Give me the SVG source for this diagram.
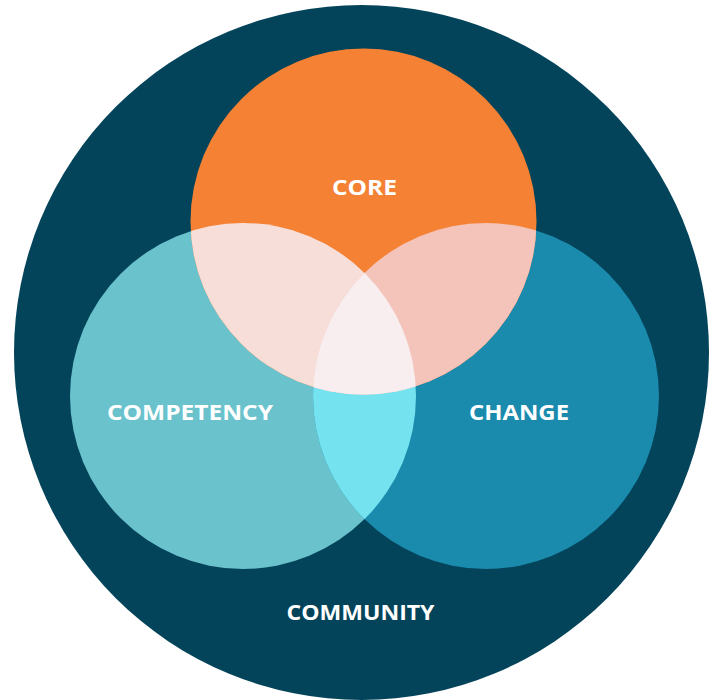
<svg xmlns="http://www.w3.org/2000/svg" width="718" height="700" viewBox="0 0 718 700">
  <style>
    .lbl { font-family: "Open Sans", "Liberation Sans", Arial, sans-serif; font-weight: 700; font-size: 22px; fill: #ffffff; text-anchor: middle; }
  </style>
  <defs>
    <clipPath id="clipCore"><circle cx="363.5" cy="221.5" r="173"/></clipPath>
    <clipPath id="clipComp"><circle cx="243" cy="396" r="173"/></clipPath>
    <clipPath id="clipChange"><circle cx="486" cy="396" r="173"/></clipPath>
  </defs>
  <rect width="718" height="700" fill="#ffffff"/>
  <g id="community">
    <circle cx="361.5" cy="352.5" r="347.5" fill="#03445a"/>
    <text class="lbl" x="360.5" y="620" textLength="148" lengthAdjust="spacingAndGlyphs">COMMUNITY</text>
  </g>
  <g id="competency">
    <circle cx="243" cy="396" r="173" fill="#6ac2cc"/>
  </g>
  <g id="change">
    <circle cx="486" cy="396" r="173" fill="#1a8aad"/>
  </g>
  <g id="core">
    <circle cx="363.5" cy="221.5" r="173" fill="#f48134"/>
  </g>
  <g id="overlaps">
    <g clip-path="url(#clipComp)">
      <circle cx="486" cy="396" r="173" fill="#74e2ef"/>
      <circle cx="363.5" cy="221.5" r="173" fill="#f7ded8"/>
    </g>
    <g clip-path="url(#clipChange)">
      <circle cx="363.5" cy="221.5" r="173" fill="#f4c4bb"/>
      <g clip-path="url(#clipComp)">
        <circle cx="363.5" cy="221.5" r="173" fill="#f8eef0"/>
      </g>
    </g>
  </g>
  <g id="labels">
    <text class="lbl" x="364.5" y="195" textLength="65" lengthAdjust="spacingAndGlyphs">CORE</text>
    <text class="lbl" x="190" y="420" textLength="166" lengthAdjust="spacingAndGlyphs">COMPETENCY</text>
    <text class="lbl" x="519" y="420" textLength="100" lengthAdjust="spacingAndGlyphs">CHANGE</text>
  </g>
</svg>
